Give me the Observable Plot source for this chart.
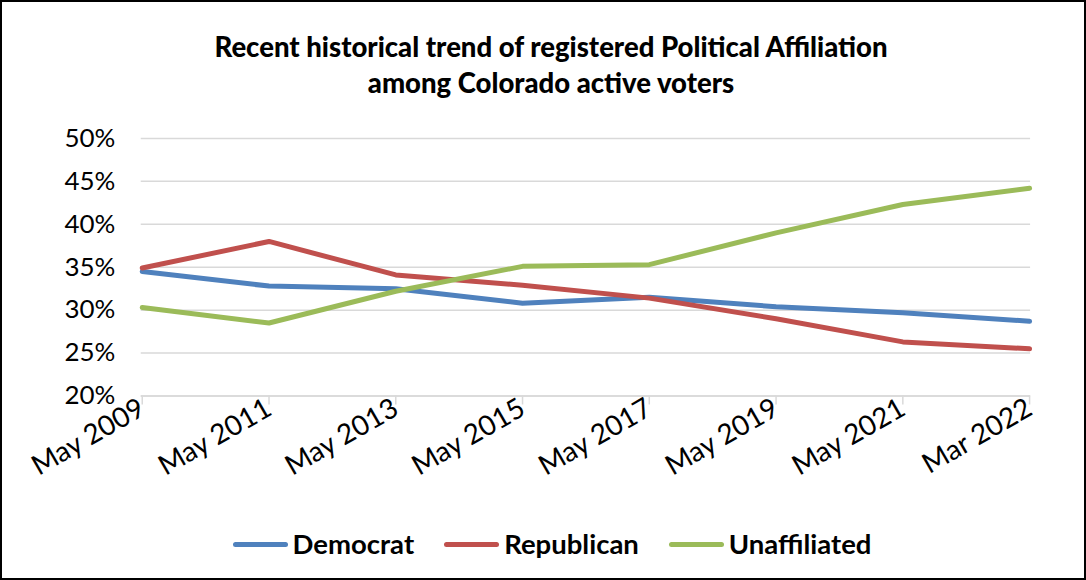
<!DOCTYPE html>
<html>
<head>
<meta charset="utf-8">
<script src="https://cdn.jsdelivr.net/npm/d3@7"></script>
<script src="https://cdn.jsdelivr.net/npm/@observablehq/plot@0.6"></script>
<style>
  html, body { margin: 0; padding: 0; background: #fff; }
  #chart {
    position: relative; width: 1086px; height: 580px; box-sizing: border-box;
    border: 2px solid #000; font-family: Lato, "Open Sans", sans-serif; overflow: hidden;
  }
  #title {
    position: absolute; top: 27px; left: 0; width: 100%; text-align: center;
    font-weight: 900; font-size: 27.5px; line-height: 36px; color: #000; padding-left: 16px; box-sizing: border-box;
  }
  #plot { position: absolute; top: 108px; left: -2px; }
  #legend {
    position: absolute; top: 525px; left: 0; width: 100%; display: flex; justify-content: center;
    gap: 30px; font-weight: bold; font-size: 27.5px; line-height: 34px; padding-left: 18px; box-sizing: border-box;
  }
  .item { display: flex; align-items: center; gap: 5px; }
  .sw { width: 55px; height: 5px; border-radius: 3px; display: inline-block; }
</style>
</head>
<body>
<div id="chart">
  <div id="title">Recent historical trend of registered Political Affiliation<br>among Colorado active voters</div>
  <div id="plot"></div>
  <div id="legend"></div>
</div>
<script>
const periods = ["May 2009", "May 2011", "May 2013", "May 2015", "May 2017", "May 2019", "May 2021", "Mar 2022"];
const democrat = [34.5, 32.8, 32.5, 30.8, 31.5, 30.4, 29.7, 28.7];
const republican = [34.9, 38.0, 34.1, 32.9, 31.4, 29.0, 26.3, 25.5];
const unaffiliated = [30.3, 28.5, 32.2, 35.1, 35.3, 39.0, 42.3, 44.2];
const seriesNames = ["Democrat", "Republican", "Unaffiliated"];
const seriesColors = ["#4f81bd", "#c0504d", "#9bbb59"];
const yTicks = [20, 25, 30, 35, 40, 45, 50];

const seriesValues = [democrat, republican, unaffiliated];
const data = seriesNames.flatMap((name, s) =>
  periods.map((p, i) => ({series: name, period: p, value: seriesValues[s][i]})));

const chart = Plot.plot({
  width: 1086,
  height: 405,
  marginLeft: 141,
  marginRight: 54,
  marginTop: 28,
  marginBottom: 119,
  style: {fontFamily: "Lato, 'Open Sans', sans-serif", background: "#fff", color: "#000"},
  x: {type: "point", domain: periods, padding: 0, label: null},
  y: {domain: [20, 50], label: null},
  color: {domain: seriesNames, range: seriesColors},
  marks: [
    Plot.gridY(yTicks, {stroke: "#d9d9d9", strokeOpacity: 1, strokeWidth: 1.5}),
    Plot.ruleY([20], {stroke: "#d9d9d9", strokeWidth: 1.5}),
    Plot.axisY(yTicks, {tickSize: 0, tickPadding: 26, tickFormat: d => d + "%", fontSize: 26, fill: "#000", label: null}),
    Plot.axisX({tickSize: 9, stroke: "#d9d9d9", strokeWidth: 1.5, strokeOpacity: 1, tickPadding: 1, tickRotate: -30, fontSize: 28, fill: "#000", label: null}),
    Plot.line(data, {x: "period", y: "value", z: "series", stroke: "series", strokeWidth: 5, strokeLinecap: "round", strokeLinejoin: "round"})
  ]
});
document.getElementById("plot").appendChild(chart);

const legend = document.getElementById("legend");
seriesNames.forEach((n, i) => {
  const it = document.createElement("div");
  it.className = "item";
  const sw = document.createElement("span");
  sw.className = "sw";
  sw.style.background = seriesColors[i];
  it.appendChild(sw);
  const t = document.createElement("span");
  t.textContent = n;
  it.appendChild(t);
  legend.appendChild(it);
});
</script>
</body>
</html>
